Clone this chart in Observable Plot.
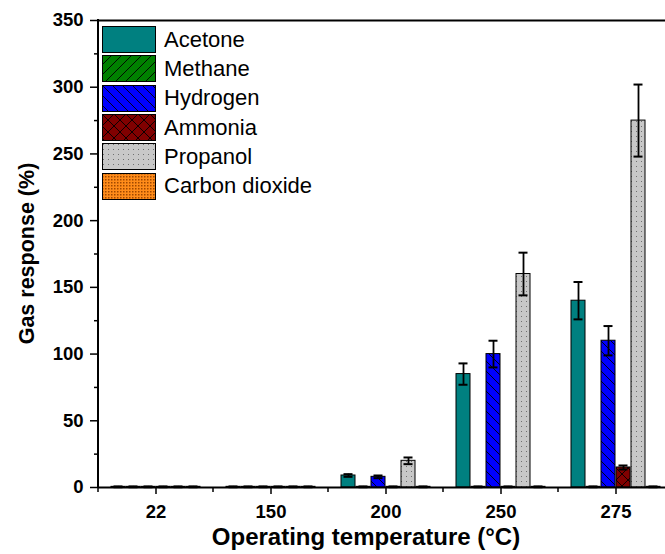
<!DOCTYPE html>
<html><head><meta charset="utf-8">
<script src="https://cdn.jsdelivr.net/npm/d3@7"></script>
<script src="https://cdn.jsdelivr.net/npm/@observablehq/plot@0.6"></script>
<style>
body{margin:0;background:#fff;overflow:hidden}
#wrap{position:relative;width:665px;height:554px}
#legend{position:absolute;left:102px;top:25px;font-family:Arial,"Liberation Sans",sans-serif;font-size:22px;color:#000}
#legend .row{display:flex;align-items:center;height:29.3px}
#legend svg{display:block;margin-right:8px}
</style></head>
<body>
<svg width="0" height="0" style="position:absolute">
<defs>
<pattern id="p-methane" patternUnits="userSpaceOnUse" width="10" height="10">
<rect width="10" height="10" fill="#008000"/>
<path d="M-1,11 L11,-1 M-6,6 L6,-6 M4,16 L16,4" stroke="#000" stroke-width="0.9"/>
</pattern>
<pattern id="p-hydrogen" patternUnits="userSpaceOnUse" width="10" height="10">
<rect width="10" height="10" fill="#0000ff"/>
<path d="M-1,-1 L11,11 M-6,4 L6,16 M4,-6 L16,6" stroke="#000" stroke-width="0.9"/>
</pattern>
<pattern id="p-ammonia" patternUnits="userSpaceOnUse" width="12" height="12">
<rect width="12" height="12" fill="#800000"/>
<path d="M-1,-1 L13,13 M-1,13 L13,-1" stroke="#000" stroke-width="0.9"/>
</pattern>
<pattern id="p-propanol" patternUnits="userSpaceOnUse" width="5" height="5">
<rect width="5" height="5" fill="#c8c8c8"/>
<rect x="1" y="1" width="1" height="1" fill="#707070"/>
</pattern>
<pattern id="p-co2" patternUnits="userSpaceOnUse" width="3" height="3">
<rect width="3" height="3" fill="#ff8c1a"/>
<rect x="0" y="0" width="1.5" height="1.5" fill="#a04800"/>
</pattern>
</defs>
</svg>
<div id="wrap"><div id="legend"></div></div>
<script>
const temperatures = ["22", "150", "200", "250", "275"];
const gases = ["Acetone", "Methane", "Hydrogen", "Ammonia", "Propanol", "Carbon dioxide"];
const gasFills = ["#008080", "url(#p-methane)", "url(#p-hydrogen)", "url(#p-ammonia)", "url(#p-propanol)", "url(#p-co2)"];

const acetone = [0.5, 0.5, 9, 85, 140];
const acetoneErr = [0.3, 0.3, 1, 8, 14];
const methane = [0.5, 0.5, 0.5, 0.5, 0.5];
const methaneErr = [0.3, 0.3, 0.3, 0.3, 0.3];
const hydrogen = [0.5, 0.5, 8, 100, 110];
const hydrogenErr = [0.3, 0.3, 1, 10, 11];
const ammonia = [0.5, 0.5, 0.5, 0.5, 15];
const ammoniaErr = [0.3, 0.3, 0.3, 0.3, 1.5];
const propanol = [0.5, 0.5, 20, 160, 275];
const propanolErr = [0.3, 0.3, 2.5, 16, 27];
const co2 = [0.5, 0.5, 0.5, 0.5, 0.5];
const co2Err = [0.3, 0.3, 0.3, 0.3, 0.3];

const yTicks = [0, 50, 100, 150, 200, 250, 300, 350];
const yMinorTicks = [25, 75, 125, 175, 225, 275, 325];

const seriesValues = [acetone, methane, hydrogen, ammonia, propanol, co2];
const seriesErrors = [acetoneErr, methaneErr, hydrogenErr, ammoniaErr, propanolErr, co2Err];
const data = [];
temperatures.forEach((t, i) => {
  gases.forEach((g, j) => {
    data.push({temp: t, gas: g, value: seriesValues[j][i], err: seriesErrors[j][i]});
  });
});

const font = 'Arial, "Liberation Sans", sans-serif';
const chart = Plot.plot({
  width: 665, height: 554,
  marginLeft: 98, marginRight: 0, marginTop: 20, marginBottom: 67,
  style: {fontFamily: font, fontSize: "18.5px", fontWeight: "bold", color: "#000", background: "#fff"},
  fx: {domain: temperatures, range: [98, 673], padding: 0, label: null, axis: null},
  x: {domain: gases, axis: null, paddingInner: 0.04, paddingOuter: 0.7},
  y: {domain: [0, 350], axis: null},
  color: {domain: gases, range: gasFills},
  marks: [
    Plot.barY(data, {fx: "temp", x: "gas", y: "value", fill: "gas", stroke: "#000", strokeWidth: 1}),
    Plot.ruleX(data, {fx: "temp", x: "gas", y1: d => d.value - d.err, y2: d => d.value + d.err, stroke: "#000", strokeWidth: 1.8}),
    Plot.tickY(data, {fx: "temp", x: "gas", y: d => d.value + d.err, stroke: "#000", strokeWidth: 2, insetLeft: 2.5, insetRight: 2.5}),
    Plot.tickY(data, {fx: "temp", x: "gas", y: d => d.value - d.err, stroke: "#000", strokeWidth: 2, insetLeft: 2.5, insetRight: 2.5}),
    Plot.ruleY([0], {stroke: "#000", strokeWidth: 2}),
    Plot.ruleY([350], {stroke: "#000", strokeWidth: 2}),
    Plot.axisY(yTicks, {tickSize: 8, tickPadding: 7, strokeWidth: 1.5, fontSize: 18.5, fontWeight: "bold", label: null}),
    Plot.axisY(yMinorTicks, {tickSize: 4, strokeWidth: 1.5, text: null, label: null}),
    Plot.axisFx({anchor: "bottom", tickSize: 7, tickPadding: 10, strokeWidth: 1.5, fontSize: 18.5, fontWeight: "bold", label: null})
  ]
});
document.getElementById("wrap").prepend(chart);

const svg = d3.select(chart);
const fx = chart.scale("fx"), y = chart.scale("y");
const x0 = fx.apply(temperatures[0]);
const y0 = y.apply(0), yTop = y.apply(350);
// left axis line
svg.append("line").attr("x1", x0).attr("x2", x0).attr("y1", yTop - 1).attr("y2", y0 + 1)
  .attr("stroke", "#000").attr("stroke-width", 2);
// minor x ticks at category boundaries
temperatures.forEach(t => {
  const xb = fx.apply(t);
  svg.append("line").attr("x1", xb).attr("x2", xb).attr("y1", y0).attr("y2", y0 + 5)
    .attr("stroke", "#000").attr("stroke-width", 1.5);
});
// axis titles
svg.append("text").attr("x", 366).attr("y", 545).attr("text-anchor", "middle")
  .attr("font-family", font).attr("font-weight", "bold").attr("font-size", 24)
  .text("Operating temperature (°C)");
svg.append("text").attr("transform", `translate(34,${(y0 + yTop) / 2}) rotate(-90)`).attr("text-anchor", "middle")
  .attr("font-family", font).attr("font-weight", "bold").attr("font-size", 21.5)
  .text("Gas response (%)");

// legend
const legend = document.getElementById("legend");
gases.forEach((g, j) => {
  const row = document.createElement("div");
  row.className = "row";
  row.innerHTML = `<svg width="54" height="27"><rect x="0.5" y="0.5" width="53" height="26" fill="${gasFills[j]}" stroke="#000" stroke-width="1"/></svg><span>${g}</span>`;
  legend.appendChild(row);
});
</script>
</body></html>
